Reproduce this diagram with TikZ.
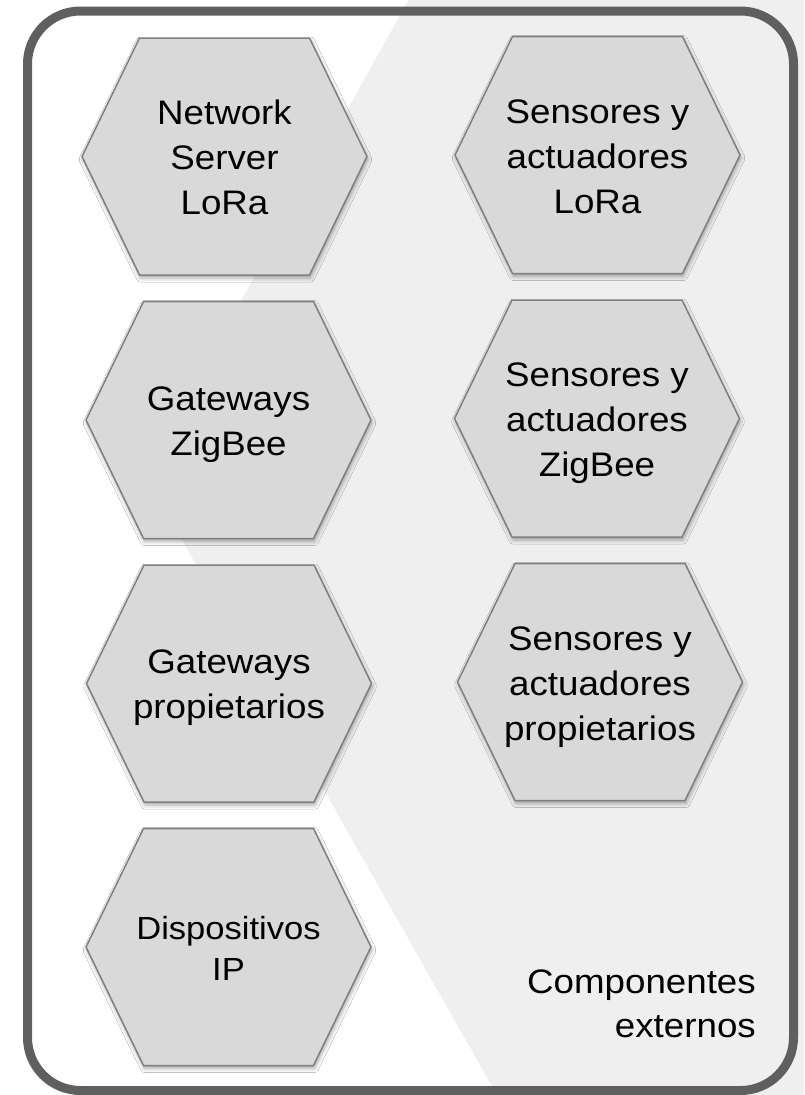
\documentclass[tikz,border=0pt]{standalone}
\usepackage{fontspec}
\newfontfamily\hfont[FakeStretch=1.08]{Liberation Sans}
\usetikzlibrary{shadows.blur}
\definecolor{bglight}{HTML}{EFEFEF}
\definecolor{hexfill}{HTML}{D9D9D9}
\definecolor{hexline}{HTML}{7F7F7F}
\definecolor{framecol}{HTML}{5F5F5F}
\tikzset{
  hexshape/.style={fill=hexfill, draw=hexline, line width=1.5pt, line join=miter,
    blur shadow={shadow xshift=1pt, shadow yshift=-3pt, shadow blur radius=4pt, shadow opacity=35}},
  hextext/.style={align=center, inner sep=0pt, text depth=7pt,
    font=\hfont\fontsize{34}{45}\selectfont},
  frameline/.style={draw=framecol, line width=9pt, rounded corners=53pt},
}
% #1 name, #2 cx, #3 cy, #4 text height (33 + (lines-1)*skip), #5 text
\newcommand\myhex[5]{%
  \path[hexshape] (#2-142.5,#3) -- (#2-85,#3-118.5) -- (#2+85,#3-118.5) -- (#2+142.5,#3)
     -- (#2+85,#3+118.5) -- (#2-85,#3+118.5) -- cycle;
  \node[hextext, text height=#4] (#1) at (#2,#3) {#5};}
\begin{document}
\begin{tikzpicture}[x=1pt,y=-1pt]
\useasboundingbox (0,0) rectangle (804,1095);
\fill[white] (0,0) rectangle (804,1095);
\fill[bglight] (408.5,0) -- (804,0) -- (804,1095) -- (497,1095) -- (144.7,474) -- cycle;
\draw[frameline] (27.5,11) rectangle (793.5,1090.5);
\myhex{nsl}{224.5}{156.5}{123pt}{Network\\Server\\LoRa}
\myhex{gzb}{228.5}{420}{78pt}{Gateways\\ZigBee}
\myhex{gpr}{229}{683.5}{76pt}{Gateways\\propietarios}
\begin{scope}[hextext/.append style={font=\hfont\fontsize{32}{41}\selectfont}]
\myhex{dip}{228.5}{947}{73pt}{Dispositivos\\IP}
\end{scope}
\myhex{sal}{597.5}{155}{123pt}{Sensores y\\actuadores\\LoRa}
\myhex{saz}{597}{418.5}{123pt}{Sensores y\\actuadores\\ZigBee}
\myhex{sap}{600}{682}{123pt}{Sensores y\\actuadores\\propietarios}
\node[align=right, inner sep=0pt, text height=77pt, text depth=7pt,
  font=\hfont\fontsize{34}{44}\selectfont, anchor=north east] (ext) at (756,960) {Componentes\\externos};
\end{tikzpicture}
\end{document}
